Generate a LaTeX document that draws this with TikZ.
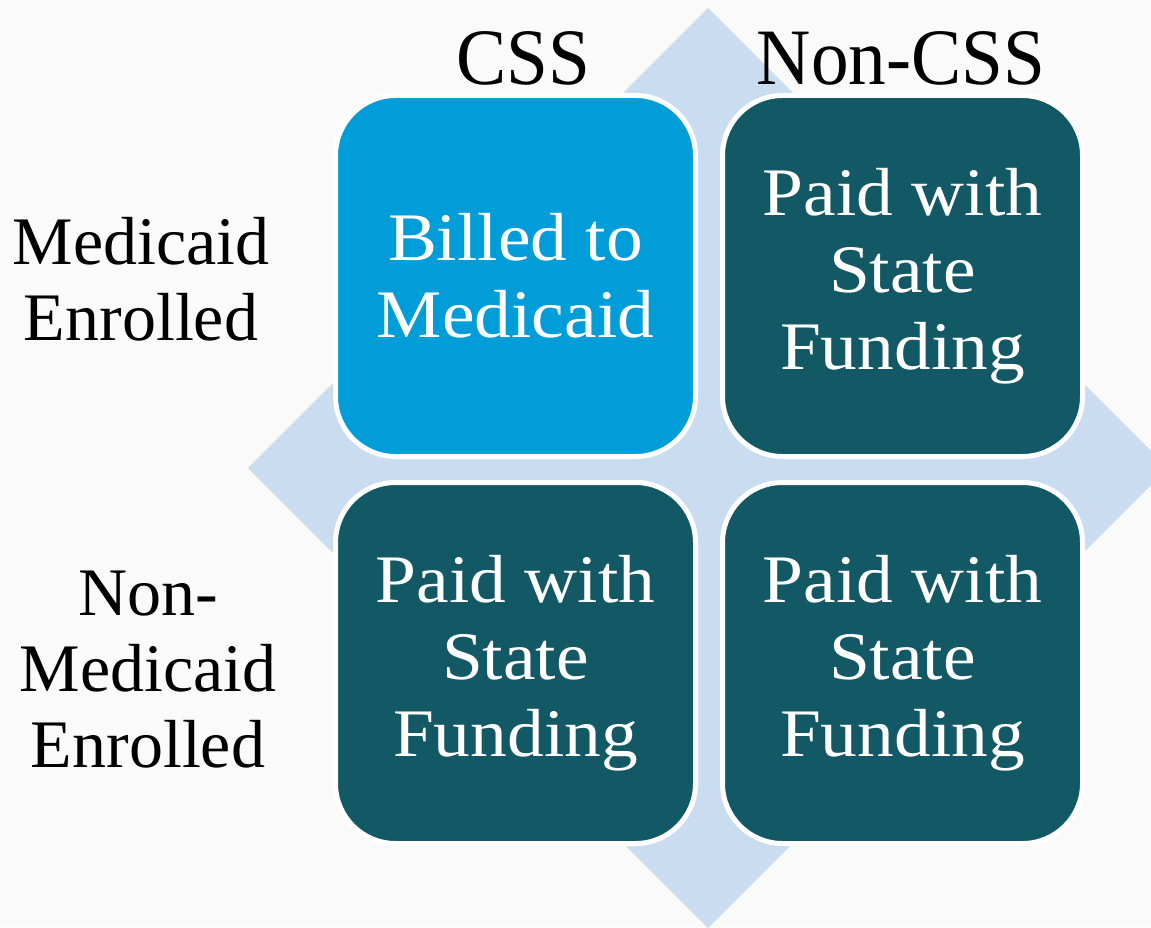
\documentclass[tikz,border=0pt]{standalone}
\usepackage{fontspec}
\setmainfont{Liberation Serif}
\newfontfamily\widefont[FakeStretch=1.08]{Liberation Serif}
\newfontfamily\narrowfont[FakeStretch=0.94]{Liberation Serif}
\definecolor{bg}{HTML}{FAFAFA}
\definecolor{lightbox}{HTML}{009DD9}
\definecolor{darkbox}{HTML}{135965}
\definecolor{diam}{HTML}{CADDF0}
\begin{document}
\begin{tikzpicture}[x=0.75pt,y=-0.75pt,
  cell/.style={draw=white, line width=3.75pt, rounded corners=45pt,
    minimum width=270pt, minimum height=270.75pt, inner sep=0pt,
    text=white, align=center, font=\widefont\fontsize{51}{57.75}\selectfont},
  rowlabel/.style={align=center, inner sep=0pt, text=black,
    font=\fontsize{51}{57}\selectfont},
  collabel/.style={inner sep=0pt, text=black,
    font=\narrowfont\fontsize{60}{66}\selectfont}]
\fill[bg] (0,0) rectangle (1151,927);
\useasboundingbox (0,0) rectangle (1151,927);
\begin{scope}
\clip (0,0) rectangle (1151,927);
\fill[diam] (708,8) -- (248,468) -- (708,928) -- (1168,468) -- cycle;
\end{scope}
\node[cell, fill=lightbox] (tl) at (515.5,276) {Billed to\\Medicaid};
\node[cell, fill=darkbox] (tr) at (902.5,276) {Paid with\\State\\Funding};
\node[cell, fill=darkbox] (bl) at (515.5,663) {Paid with\\State\\Funding};
\node[cell, fill=darkbox] (br) at (902.5,663) {Paid with\\State\\Funding};
\node[collabel] (css) at (523,58) {CSS};
\node[collabel] (noncss) at (901,58) {Non-CSS};
\node[rowlabel] (med) at (141,279) {Medicaid\\Enrolled};
\node[rowlabel] (nonmed) at (148,670) {Non-\\Medicaid\\Enrolled};
\end{tikzpicture}
\end{document}
